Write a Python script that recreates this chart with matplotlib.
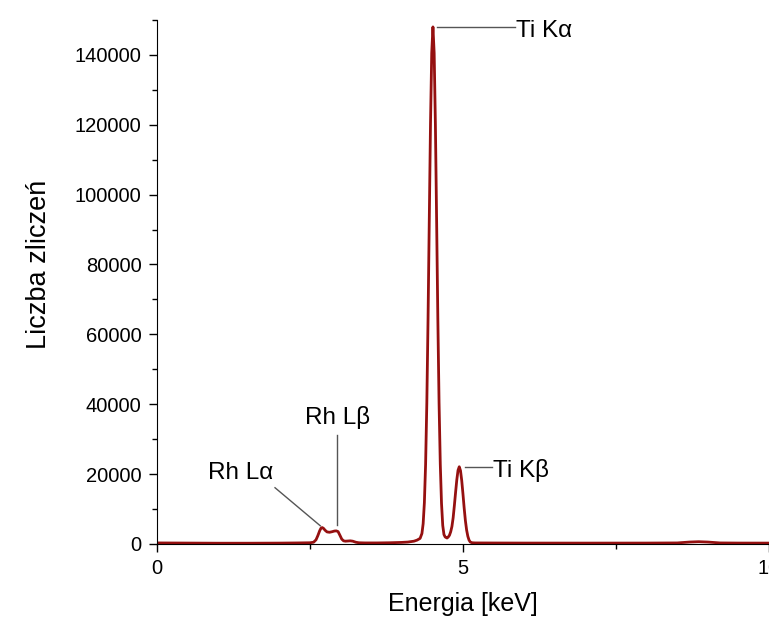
import matplotlib.pyplot as plt
from matplotlib.ticker import MultipleLocator

plt.rcParams['font.family'] = ['Liberation Sans', 'DejaVu Sans']

# EDXRF spectrum (energy in keV, counts)
energy = [0.0, 0.5, 1.0, 1.5, 2.0, 2.3, 2.5, 2.56, 2.60, 2.63, 2.66, 2.68,
          2.70, 2.72, 2.75, 2.78, 2.82, 2.86, 2.90, 2.93, 2.96, 2.99, 3.02,
          3.05, 3.08, 3.12, 3.16, 3.20, 3.25, 3.30, 3.40, 3.60, 3.80, 4.00,
          4.10, 4.20, 4.25, 4.30, 4.33, 4.35, 4.37, 4.39, 4.41, 4.43, 4.45,
          4.47, 4.49, 4.51, 4.53, 4.55, 4.57, 4.59, 4.61, 4.63, 4.65, 4.67,
          4.69, 4.71, 4.74, 4.76, 4.78, 4.80, 4.82, 4.84, 4.86, 4.88, 4.90,
          4.92, 4.94, 4.96, 4.98, 5.00, 5.02, 5.04, 5.06, 5.08, 5.10, 5.12,
          5.15, 5.20, 5.50, 6.00, 7.00, 8.00, 8.50, 8.70, 8.85, 9.00, 9.20,
          9.50, 10.0]
counts = [300, 260, 220, 220, 250, 300, 350, 500, 1200, 2400, 3800, 4500,
          4700, 4500, 3900, 3450, 3350, 3500, 3700, 3750, 3550, 2500, 1400,
          900, 800, 850, 900, 800, 500, 350, 300, 300, 350, 450,
          550, 800, 1100, 1600, 3000, 5800, 11800, 22800, 40300, 64400, 92700,
          120200, 140500, 148000, 140500, 120200, 92700, 64400, 40300, 22800, 11600, 5300,
          2700, 2000, 1700, 2000, 2500, 3500, 5000, 7500, 11000, 14800, 18400,
          21100, 22100, 21000, 18200, 14400, 10300, 6700, 4000, 2200, 1100, 550,
          350, 300, 280, 260, 250, 260, 300, 550, 650, 550, 300,
          260, 250]

fig = plt.figure(figsize=(7.69, 6.43), dpi=100)
ax = fig.add_axes([0.204, 0.154, 0.796, 0.815])

ax.plot(energy, counts, color='#951010', lw=2)

ax.set_xlim(0, 10)
ax.set_ylim(0, 150000)
ax.xaxis.set_major_locator(MultipleLocator(5))
ax.xaxis.set_minor_locator(MultipleLocator(2.5))
ax.yaxis.set_major_locator(MultipleLocator(20000))
ax.yaxis.set_minor_locator(MultipleLocator(10000))
ax.tick_params(which='major', direction='out', length=6, width=1, labelsize=14.5, pad=5)
ax.tick_params(which='minor', direction='out', length=3.5, width=1)
ax.spines['top'].set_visible(False)
ax.spines['right'].set_visible(False)
ax.set_xlabel('Energia [keV]', fontsize=18, labelpad=10)
ax.set_ylabel('Liczba zliczeń', fontsize=19.5)
ax.yaxis.set_label_coords(-0.172, 0.534)

# peak labels
lc = '#555555'
fs = 17.5
ax.plot([4.575, 5.85], [148000, 148000], color=lc, lw=1)
ax.text(5.87, 146800, 'Ti Kα', fontsize=fs, va='center', ha='left')
ax.plot([5.03, 5.47], [22000, 22000], color=lc, lw=1)
ax.text(5.49, 21000, 'Ti Kβ', fontsize=fs, va='center', ha='left')
ax.plot([2.945, 2.945], [5450, 31300], color=lc, lw=1)
ax.text(2.945, 36200, 'Rh Lβ', fontsize=fs, va='center', ha='center')
ax.plot([1.93, 2.67], [16100, 5200], color=lc, lw=1)
ax.text(1.90, 20400, 'Rh Lα', fontsize=fs, va='center', ha='right')

fig.savefig('out.png', dpi=100)
